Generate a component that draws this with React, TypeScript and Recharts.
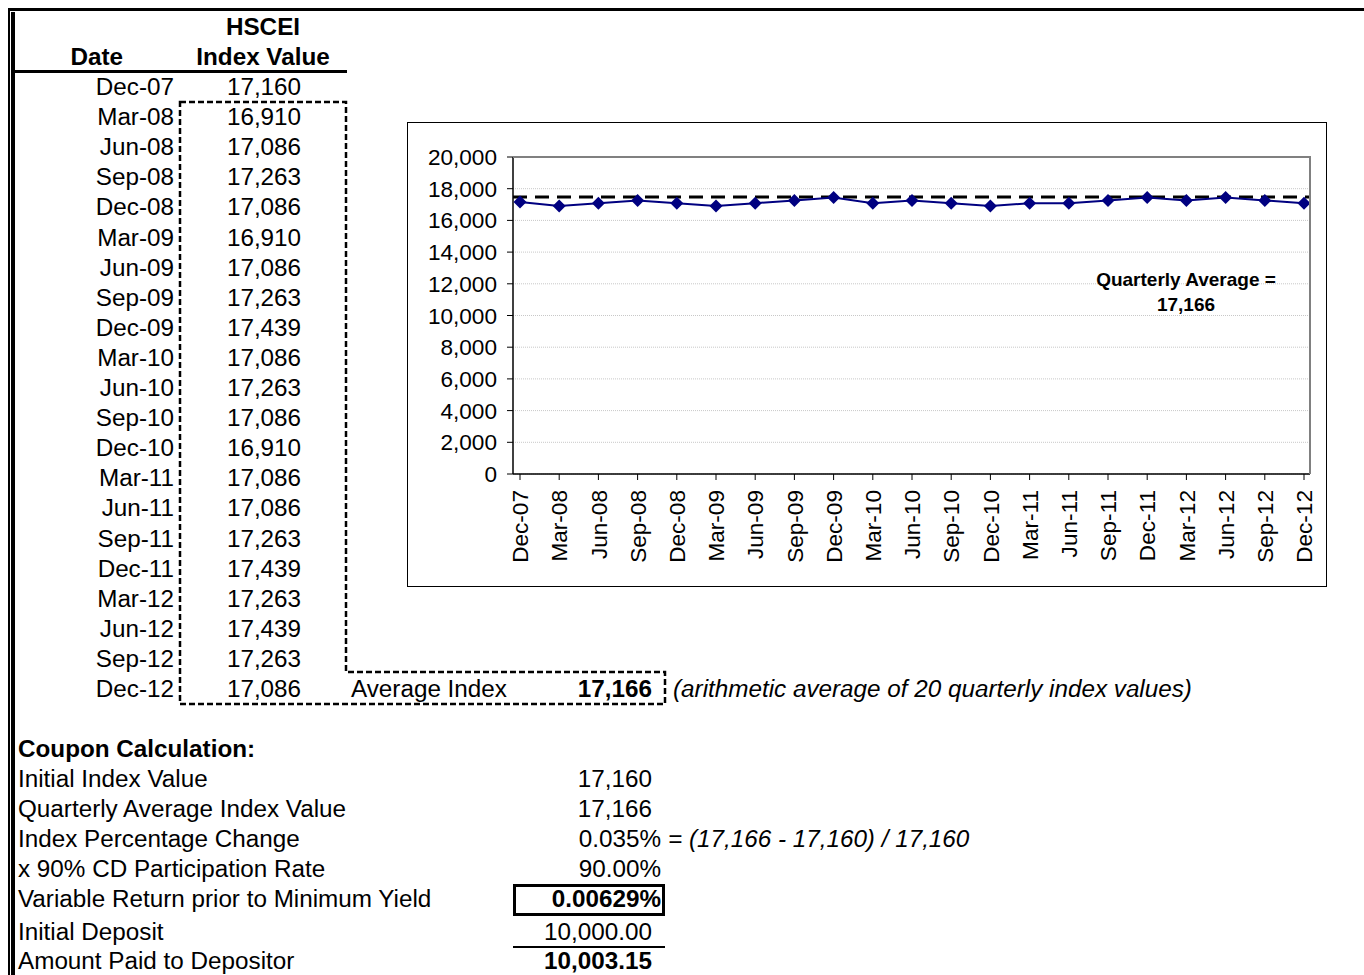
import React from 'react'
import { LineChart, Line, XAxis, YAxis, CartesianGrid, ReferenceLine } from 'recharts'

const quarters = [
  'Dec-07', 'Mar-08', 'Jun-08', 'Sep-08', 'Dec-08', 'Mar-09', 'Jun-09', 'Sep-09', 'Dec-09', 'Mar-10', 'Jun-10',
  'Sep-10', 'Dec-10', 'Mar-11', 'Jun-11', 'Sep-11', 'Dec-11', 'Mar-12', 'Jun-12', 'Sep-12', 'Dec-12',
]
const indexValues = [
  17160, 16910, 17086, 17263, 17086, 16910, 17086, 17263, 17439, 17086, 17263,
  17086, 16910, 17086, 17086, 17263, 17439, 17263, 17439, 17263, 17086,
]
const yTicks = [0, 2000, 4000, 6000, 8000, 10000, 12000, 14000, 16000, 18000, 20000]
const quarterlyAverage = 17166
// the dashed line in the source is drawn a little above the true average
const averageLineLevel = 17480

const couponLabels = [
  'Initial Index Value',
  'Quarterly Average Index Value',
  'Index Percentage Change',
  'x 90% CD Participation Rate',
  'Variable Return prior to Minimum Yield',
  'Initial Deposit',
  'Amount Paid to Depositor',
]
const couponValues = ['17,160', '17,166', '0.035%', '90.00%', '0.00629%', '10,000.00', '10,003.15']
const couponRowY = [779, 809, 839, 869, 899, 932, 961]

const chartData = quarters.map((q, i) => ({ quarter: q, value: indexValues[i] }))

const FONT = '"Liberation Sans", Arial, sans-serif'
const fmt = (n: number) => n.toLocaleString('en-US')

const Diamond = (props: any) => {
  const { cx, cy } = props
  if (cx == null || cy == null) return null
  const r = 6.5
  return <polygon points={`${cx},${cy - r} ${cx + r},${cy} ${cx},${cy + r} ${cx - r},${cy}`} fill="#000080" />
}

const RotatedTick = (props: any) => {
  const { x, y, payload } = props
  return (
    <text
      x={x}
      y={y}
      transform={`rotate(-90, ${x}, ${y})`}
      textAnchor="end"
      dy="0.36em"
      fontSize={22.6}
      fill="#000"
      fontFamily={FONT}
    >
      {payload.value}
    </text>
  )
}

const rowTop = (i: number) => 72 + i * 30.1

export default function App() {
  const txt: React.CSSProperties = { position: 'absolute', fontSize: 24.25, lineHeight: '30px', whiteSpace: 'nowrap', color: '#000' }

  return (
    <div style={{ position: 'absolute', left: 0, top: 0, width: 1364, height: 975, background: '#fff', fontFamily: FONT, overflow: 'hidden' }}>
      {/* sheet borders */}
      <div style={{ position: 'absolute', left: 8, top: 8, width: 1356, height: 3, background: '#000' }} />
      <div style={{ position: 'absolute', left: 8, top: 8, width: 1.5, height: 967, background: '#000' }} />
      <div style={{ position: 'absolute', left: 10.5, top: 12, width: 4, height: 963, background: '#000' }} />

      {/* table header */}
      <div style={{ ...txt, left: 183, width: 160, top: 12, textAlign: 'center', fontWeight: 'bold' }}>HSCEI</div>
      <div style={{ ...txt, left: 183, width: 160, top: 42, textAlign: 'center', fontWeight: 'bold' }}>Index Value</div>
      <div style={{ ...txt, left: 20, width: 103, top: 42, textAlign: 'right', fontWeight: 'bold' }}>Date</div>
      <div style={{ position: 'absolute', left: 14, top: 70, width: 333, height: 3, background: '#000' }} />

      {quarters.map((q, i) => (
        <React.Fragment key={q}>
          <div style={{ ...txt, left: 20, width: 154, top: rowTop(i), textAlign: 'right' }}>{q}</div>
          <div style={{ ...txt, left: 184, width: 160, top: rowTop(i), textAlign: 'center' }}>{fmt(indexValues[i])}</div>
        </React.Fragment>
      ))}

      {/* dashed selection outline */}
      <svg style={{ position: 'absolute', left: 0, top: 0 }} width={1364} height={975}>
        <path
          d="M180,102 L346,102 L346,672 L665,672 L665,704 L180,704 Z"
          fill="none"
          stroke="#000"
          strokeWidth={2.5}
          strokeDasharray="6 3"
        />
      </svg>

      <div style={{ ...txt, left: 351, top: rowTop(20) }}>Average Index</div>
      <div style={{ ...txt, left: 500, width: 152, top: rowTop(20), textAlign: 'right', fontWeight: 'bold' }}>{fmt(quarterlyAverage)}</div>
      <div style={{ ...txt, left: 673, top: rowTop(20), fontStyle: 'italic' }}>(arithmetic average of 20 quarterly index values)</div>

      {/* coupon calculation */}
      <div style={{ ...txt, left: 18, top: 734, fontWeight: 'bold' }}>Coupon Calculation:</div>
      {couponLabels.map((label, i) => {
        const right = couponValues[i].endsWith('%') ? 661 : 652
        return (
          <React.Fragment key={label}>
            <div style={{ ...txt, left: 18, top: couponRowY[i] - 15 }}>{label}</div>
            <div
              style={{
                ...txt,
                left: right - 160,
                width: 160,
                top: couponRowY[i] - 15,
                textAlign: 'right',
                fontWeight: i === 4 || i === 6 ? 'bold' : 'normal',
              }}
            >
              {couponValues[i]}
            </div>
          </React.Fragment>
        )
      })}
      <div style={{ ...txt, left: 668, top: couponRowY[2] - 15, fontStyle: 'italic' }}>= (17,166 - 17,160) / 17,160</div>
      <div style={{ position: 'absolute', left: 513, top: 884, width: 152, height: 32, border: '3px solid #000', boxSizing: 'border-box' }} />
      <div style={{ position: 'absolute', left: 513, top: 946, width: 152, height: 2, background: '#000' }} />

      {/* chart */}
      <div style={{ position: 'absolute', left: 407, top: 122, width: 920, height: 465 }}>
        <LineChart width={920} height={465} data={chartData} margin={{ top: 35, right: 17, bottom: 0, left: 0 }}>
          <CartesianGrid horizontal vertical={false} stroke="#c8c8c8" strokeDasharray="1 1" />
          <XAxis
            dataKey="quarter"
            interval={0}
            height={113}
            padding={{ left: 7, right: 6 }}
            tick={<RotatedTick />}
            tickSize={6}
            tickMargin={10}
            axisLine={{ stroke: '#000', strokeWidth: 1.5 }}
            tickLine={{ stroke: '#000' }}
          />
          <YAxis
            width={106}
            domain={[0, 20000]}
            ticks={yTicks}
            interval={0}
            tickFormatter={fmt}
            tickSize={6}
            tickMargin={10}
            tick={{ fontSize: 22.6, fill: '#000', fontFamily: FONT }}
            axisLine={{ stroke: '#000', strokeWidth: 1.5 }}
            tickLine={{ stroke: '#000' }}
          />
          <ReferenceLine y={averageLineLevel} stroke="#000" strokeWidth={3} strokeDasharray="14 8" />
          <Line
            type="linear"
            dataKey="value"
            stroke="#000080"
            strokeWidth={2}
            dot={<Diamond />}
            activeDot={false}
            isAnimationActive={false}
          />
        </LineChart>
        {/* plot area frame (top / right, grey) */}
        <div
          style={{
            position: 'absolute',
            left: 106,
            top: 34,
            width: 798,
            height: 318,
            borderTop: '2px solid #808080',
            borderRight: '2px solid #808080',
            boxSizing: 'border-box',
            pointerEvents: 'none',
          }}
        />
        <div style={{ position: 'absolute', left: 0, top: 0, width: 920, height: 465, border: '1.5px solid #000', boxSizing: 'border-box', pointerEvents: 'none' }} />
        <div style={{ position: 'absolute', left: 679, top: 145, width: 200, textAlign: 'center', fontSize: 19, lineHeight: '25px', fontWeight: 'bold' }}>
          Quarterly Average =
          <br />
          {fmt(quarterlyAverage)}
        </div>
      </div>
    </div>
  )
}
